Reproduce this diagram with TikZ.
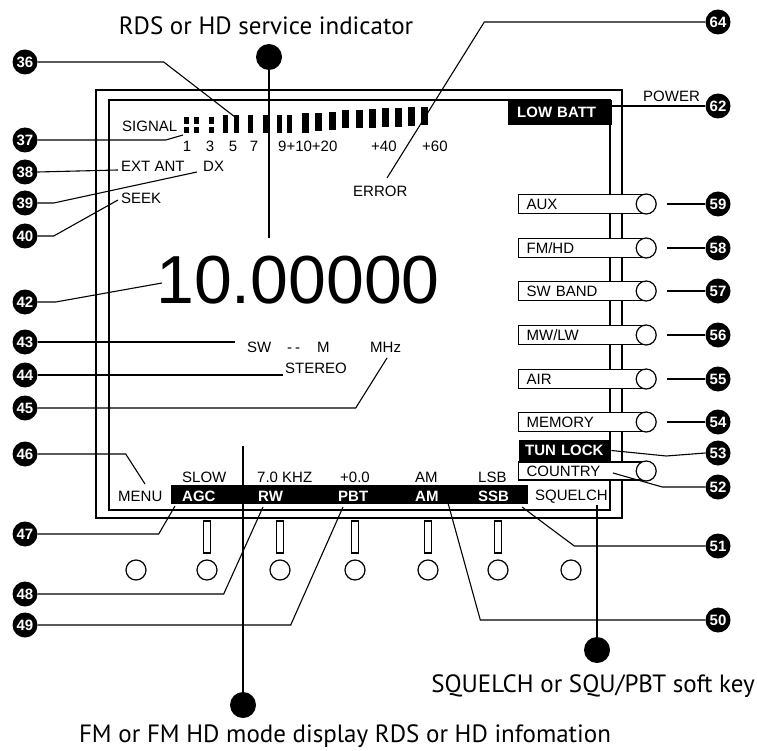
\documentclass[tikz,border=0pt]{standalone}
\usepackage{fontspec}
\setmainfont{Liberation Sans}
\newfontfamily\capfont{PT Sans}
\usepackage{tikz}
\usetikzlibrary{positioning}

\tikzset{
  lcd/.style={anchor=base west, inner sep=0pt, font=\fontsize{15}{15}\selectfont},
  lcdneg/.style={lcd, text=white, font=\fontsize{15}{15}\selectfont\bfseries},
  callout/.style={circle, fill=black, inner sep=0pt, minimum size=25pt, text=white,
    font=\fontsize{15}{15}\selectfont\bfseries},
  bigdot/.style={circle, fill=black, inner sep=0pt, minimum size=26pt},
  caption/.style={anchor=base, inner sep=0pt, font=\capfont\fontsize{25}{25}\selectfont},
  keybox/.style={draw, fill=white, line width=1.2pt, anchor=west, minimum height=19pt,
    text width=111pt, inner xsep=8pt, inner ysep=0pt, align=left,
    font=\fontsize{15}{15}\selectfont},
  negbox/.style={fill=black, text=white, anchor=west, inner ysep=0pt, align=left,
    font=\fontsize{15}{15}\selectfont\bfseries},
  knob/.style={circle, draw, fill=white, line width=1.2pt, minimum size=20pt, inner sep=0pt},
  leader/.style={line width=1.1pt},
  pointer/.style={line width=1.6pt},
  bezel/.style={line width=1.8pt}
}

\begin{document}
\begin{tikzpicture}[x=1pt,y=-1pt]
  \useasboundingbox (0,0) rectangle (757,751);

  % display bezel, outer and inner
  \draw[bezel] (96,90) rectangle (622,518);
  \draw[bezel] (109,100) rectangle (610,510);

  % signal meter, first three bars broken
  \foreach \bx in {184,194,209}{
    \fill (\bx,117) rectangle (\bx+5,124);
    \fill (\bx,127) rectangle (\bx+5,133);
  }
  \foreach \bx/\bt/\bb/\bw in {223/115/133/5, 234/115/133/5, 248/115/133/5,
      263/115/133/5, 277/115/133/5, 287/115/133/5, 302/113/133/7, 315/113/131/7,
      329/112/130/7, 342/110/128/7, 356/110/128/7, 369/109/128/7, 382/108/127/7,
      395/108/127/7, 408/107/126/7, 421/107/125/7}
    \fill (\bx,\bt) rectangle (\bx+\bw,\bb);

  \node[lcd] (signal) at (122,132) {SIGNAL};
  \node[lcd, anchor=base] (s1) at (187,152) {1};
  \node[lcd, anchor=base] (s3) at (210,152) {3};
  \node[lcd, anchor=base] (s5) at (233,152) {5};
  \node[lcd, anchor=base] (s7) at (254,152) {7};
  \node[lcd] (s9) at (278,152) {9+10+20};
  \node[lcd] (s40) at (371,152) {+40};
  \node[lcd] (s60) at (422,152) {+60};

  \node[lcd] (extant) at (121,172) {EXT ANT};
  \node[lcd] (dx) at (203,172) {DX};
  \node[lcd] (seek) at (121,204) {SEEK};
  \node[lcd] (error) at (353,197) {ERROR};
  \node[lcd] (power) at (643,102) {POWER};
  \node[negbox, minimum height=25pt, text width=86pt, inner xsep=9pt] (lowbatt) at (508,112.5) {LOW BATT};

  % frequency readout
  \node[anchor=base west, inner sep=0pt, font=\fontsize{68}{68}\selectfont] (freq) at (156,303) {10.00000};

  \node[lcd] (sw) at (247,352) {SW};
  \node[lcd] (dashes) at (287,352) {{-}\hspace{3pt}{-}};
  \node[lcd] (meter) at (317,352) {M};
  \node[lcd] (mhz) at (370,352) {MHz};
  \node[lcd] (stereo) at (285,373) {STEREO};

  % soft key captions along the bottom
  \fill (171,485) rectangle (528,504);
  \node[lcd] (menu) at (118,501) {MENU};
  \node[lcd] (slow) at (182,482) {SLOW};
  \node[lcd] (rwval) at (257,482) {7.0 KHZ};
  \node[lcd] (pbtval) at (340,482) {+0.0};
  \node[lcd] (amval) at (415,482) {AM};
  \node[lcd] (ssbval) at (478,482) {LSB};
  \node[lcdneg] (agc) at (182,501) {AGC};
  \node[lcdneg] (rw) at (258,501) {RW};
  \node[lcdneg] (pbt) at (338,501) {PBT};
  \node[lcdneg] (am) at (415,501) {AM};
  \node[lcdneg] (ssb) at (478,501) {SSB};
  \node[lcd] (squelch) at (535,500) {SQUELCH};

  % band keys on the right
  \node[keybox] (aux) at (518,204) {AUX};
  \node[knob] (auxk) at (aux.east) {};
  \node[keybox] (fmhd) at (518,248) {FM/HD};
  \node[knob] (fmhdk) at (fmhd.east) {};
  \node[keybox] (swband) at (518,291) {SW BAND};
  \node[knob] (swbandk) at (swband.east) {};
  \node[keybox] (mwlw) at (518,335) {MW/LW};
  \node[knob] (mwlwk) at (mwlw.east) {};
  \node[keybox] (air) at (518,379) {AIR};
  \node[knob] (airk) at (air.east) {};
  \node[keybox] (memory) at (518,422) {MEMORY};
  \node[knob] (memoryk) at (memory.east) {};
  \node[negbox, minimum height=21pt, text width=80pt, inner xsep=6pt] (tunlock) at (519,450.5) {TUN LOCK};
  \node[keybox, minimum height=18pt] (country) at (518,471) {COUNTRY};
  \node[knob] (countryk) at (country.east) {};

  % soft keys under the display
  \foreach \kx in {207,280,355,428,498}
    \draw[line width=1.2pt, fill=white] (\kx-3.5,521) rectangle (\kx+3.5,553);
  \foreach \kx in {136,207,280,355,428,498,571}
    \draw[line width=1.2pt] (\kx,570) circle (10);

  % callouts
  \node[callout] (n36) at (25,62) {36};
  \node[callout] (n37) at (25,140) {37};
  \node[callout] (n38) at (25,172) {38};
  \node[callout] (n39) at (25,203) {39};
  \node[callout] (n40) at (25,236) {40};
  \node[callout] (n42) at (25,302) {42};
  \node[callout] (n43) at (25,342) {43};
  \node[callout] (n44) at (25,375) {44};
  \node[callout] (n45) at (25,408) {45};
  \node[callout] (n46) at (25,454) {46};
  \node[callout] (n47) at (25,534) {47};
  \node[callout] (n48) at (25,594) {48};
  \node[callout] (n49) at (25,625) {49};
  \node[callout] (n64) at (718,22) {64};
  \node[callout] (n62) at (718,106) {62};
  \node[callout] (n59) at (718,204) {59};
  \node[callout] (n58) at (718,248) {58};
  \node[callout] (n57) at (718,291) {57};
  \node[callout] (n56) at (718,335) {56};
  \node[callout] (n55) at (718,379) {55};
  \node[callout] (n54) at (718,422) {54};
  \node[callout] (n53) at (718,453) {53};
  \node[callout] (n52) at (718,487) {52};
  \node[callout] (n51) at (718,546) {51};
  \node[callout] (n50) at (718,620) {50};

  \coordinate (c36) at (235,117);
  \coordinate (c37) at (183,135);
  \coordinate (c38) at (118,170);
  \coordinate (c39) at (197,172);
  \coordinate (c40) at (118,200);
  \coordinate (c42) at (162,283);
  \coordinate (c43) at (235,342);
  \coordinate (c44) at (283,375);
  \coordinate (c45) at (387,358);
  \coordinate (c46) at (145,484);
  \coordinate (c47) at (175,506);
  \coordinate (c48) at (263,507);
  \coordinate (c49) at (343,507);
  \coordinate (c50) at (448,503);
  \coordinate (c51) at (522,507);
  \coordinate (c52) at (613,473);
  \coordinate (c64) at (387,178);

  \draw[leader] (n36.east) -- ++(126,0) -- (c36);
  \draw[leader] (n37.east) -- ++(128,0) -- (c37);
  \draw[leader] (n38.east) -- (c38);
  \draw[leader] (n39.east) -- ++(16,0) -- (c39);
  \draw[leader] (n40.east) -- ++(16,0) -- (c40);
  \draw[leader] (n42.east) -- ++(18,0) -- (c42);
  \draw[leader] (n43.east) -- (c43);
  \draw[leader] (n44.east) -- (c44);
  \draw[leader] (n45.east) -- ++(318,0) -- (c45);
  \draw[leader] (n46.east) -- ++(88,0) -- (c46);
  \draw[leader] (n47.east) -- ++(121,0) -- (c47);
  \draw[leader] (n48.east) -- ++(186,0) -- (c48);
  \draw[leader] (n49.east) -- ++(253,0) -- (c49);
  \draw[leader] (n64.west) -- ++(-221,0) -- (c64);
  \draw[leader] (n62.west) -- (n62.west -| lowbatt.east);
  \draw[leader] ([xshift=10pt]auxk.east) -- (n59);
  \draw[leader] ([xshift=10pt]fmhdk.east) -- (n58);
  \draw[leader] ([xshift=10pt]swbandk.east) -- (n57);
  \draw[leader] ([xshift=10pt]mwlwk.east) -- (n56);
  \draw[leader] ([xshift=10pt]airk.east) -- (n55);
  \draw[leader] ([xshift=10pt]memoryk.east) -- (n54);
  \draw[leader] (n53.west) -- ++(-39,3) -- (tunlock.east);
  \draw[leader] (n52.west) -- ++(-43,0) -- (c52);
  \draw[leader] (n51.west) -- ++(-131,0) -- (c51);
  \draw[leader] (n50.west) -- ++(-225,0) -- (c50);

  % feature pointers with captions
  \node[bigdot] (rdsdot) at (269,57) {};
  \coordinate (rdsend) at (269,238);
  \draw[pointer] (rdsdot) -- (rdsend);
  \node[caption] (rdscap) at (266,35) {RDS or HD service indicator};

  \node[bigdot] (fmdot) at (243,705) {};
  \coordinate (fmend) at (243,446);
  \draw[pointer] (fmdot) -- (fmend);
  \node[caption] (fmcap) at (345,742) {FM or FM HD mode display RDS or HD infomation};

  \node[bigdot] (sqdot) at (597,650) {};
  \coordinate (sqend) at (597,505);
  \draw[pointer] (sqdot) -- (sqend);
  \node[caption] (sqcap) at (593,692) {SQUELCH or SQU/PBT soft key};
\end{tikzpicture}
\end{document}
